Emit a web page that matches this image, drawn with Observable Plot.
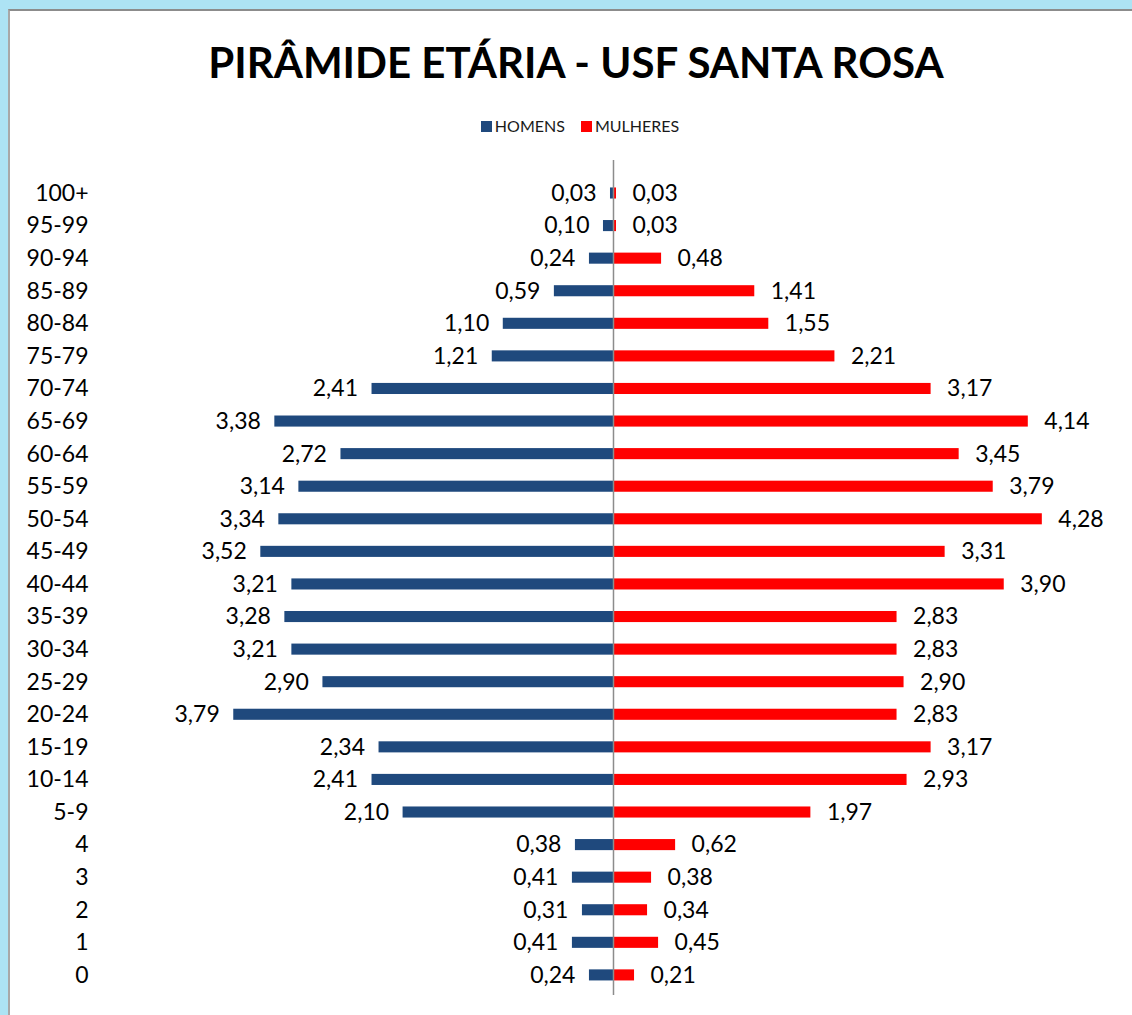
<!DOCTYPE html>
<html><head><meta charset="utf-8">
<script src="https://cdn.jsdelivr.net/npm/d3@7"></script>
<script src="https://cdn.jsdelivr.net/npm/@observablehq/plot@0.6"></script>
<style>
html,body{margin:0;padding:0;}
body{width:1132px;height:1015px;overflow:hidden;background:#ade3f4;position:relative;font-family:Lato,"Open Sans",sans-serif;}
#panel{position:absolute;left:8px;top:9px;width:1130px;height:1010px;background:#fff;border-top:2px solid #8c8c8c;border-left:2px solid #a8a8a8;}
#title{position:absolute;left:0;top:37px;width:1152px;text-align:center;font-weight:bold;font-size:42px;color:#000;}
#legend{position:absolute;left:0;top:116px;width:1160px;text-align:center;font-size:16px;color:#1a1a1a;}
#legend span.sw{display:inline-block;width:11px;height:11px;margin-right:3px;vertical-align:0px;}
#legend span.it{margin:0 8px;}
#chart{position:absolute;left:0;top:160px;}
</style></head>
<body>
<div id="panel"></div>
<div id="title">PIRÂMIDE ETÁRIA - USF SANTA ROSA</div>
<div id="legend"><span class="it"><span class="sw" style="background:#1f497d"></span>HOMENS</span><span class="it"><span class="sw" style="background:#ff0000"></span>MULHERES</span></div>
<div id="chart"></div>
<script>
const ageGroups = ["100+","95-99","90-94","85-89","80-84","75-79","70-74","65-69","60-64","55-59","50-54","45-49","40-44","35-39","30-34","25-29","20-24","15-19","10-14","5-9","4","3","2","1","0"];
const homens   = [0.03,0.10,0.24,0.59,1.10,1.21,2.41,3.38,2.72,3.14,3.34,3.52,3.21,3.28,3.21,2.90,3.79,2.34,2.41,2.10,0.38,0.41,0.31,0.41,0.24];
const mulheres = [0.03,0.03,0.48,1.41,1.55,2.21,3.17,4.14,3.45,3.79,4.28,3.31,3.90,2.83,2.83,2.90,2.83,3.17,2.93,1.97,0.62,0.38,0.34,0.45,0.21];

const men = ageGroups.map((a,i)=>({age:a, v:homens[i]}));
const women = ageGroups.map((a,i)=>({age:a, v:mulheres[i]}));
const fmt = v => d3.format(".2f")(v).replace(".", ",");
const blue = "#1f497d", red = "#ff0000";

const chart = Plot.plot({
  width: 1132,
  height: 855,
  marginLeft: 100,
  marginRight: 0,
  marginTop: 0,
  marginBottom: 20,
  style: {fontFamily: "Lato, 'Open Sans', sans-serif", fontSize: "23px", background: "transparent", color: "#000"},
  x: {domain: [-5.12, 5.18], axis: null},
  y: {domain: ageGroups, range: [16.7, 831.2], paddingInner: 0.66, paddingOuter: 0.33, round: false, axis: null},
  marks: [
    Plot.barX(men, {x: d => -d.v, y: "age", fill: blue}),
    Plot.barX(women, {x: "v", y: "age", fill: red}),
    Plot.ruleX([0], {stroke: "#8c8c8c", strokeWidth: 1.5}),
    Plot.text(men, {x: d => -d.v, y: "age", text: d => fmt(d.v), textAnchor: "end", dx: -14, fill: "#000", fontSize: 23}),
    Plot.text(women, {x: "v", y: "age", text: d => fmt(d.v), textAnchor: "start", dx: 16, fill: "#000", fontSize: 23}),
    Plot.text(ageGroups, {frameAnchor: "left", y: d => d, text: d => d, textAnchor: "end", dx: -12, fill: "#000", fontSize: 23})
  ]
});
document.getElementById("chart").appendChild(chart);
</script>
</body></html>
